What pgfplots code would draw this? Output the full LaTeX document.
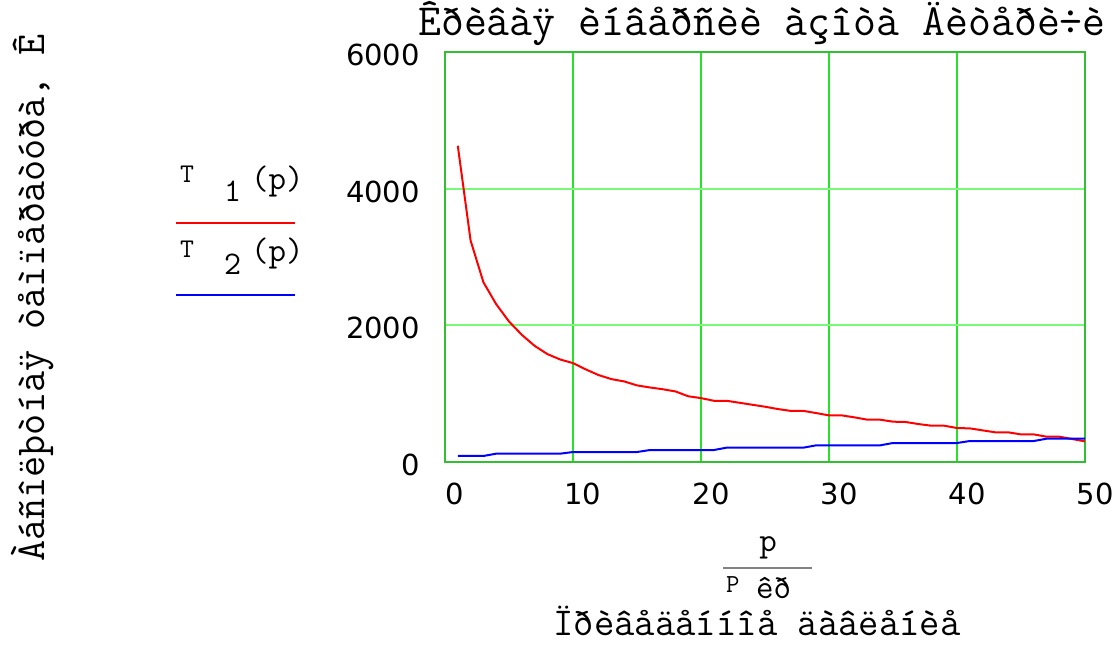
\documentclass[border=0pt]{standalone}
\usepackage{pgfplots}
\pgfplotsset{compat=1.18}
\usepackage{fontspec}
\newfontfamily\tickfont{DejaVu Sans}
\definecolor{framegreen}{RGB}{51,190,51}
\definecolor{vgrid}{RGB}{40,225,40}
\definecolor{hgrid}{RGB}{120,250,120}
\definecolor{fracgray}{RGB}{130,130,130}
\newcommand\mf[1]{\ttfamily\fontsize{#1}{#1}\selectfont}

\pgfplotstableread{
p T1 T2
1 4628 88
2 3240 88
3 2631 88
4 2309 122
5 2056 122
6 1861 122
7 1700 122
8 1579 122
9 1500 122
10 1447 146
11 1355 146
12 1272 146
13 1213 146
14 1179 146
15 1121 146
16 1091 175
17 1065 175
18 1033 175
19 962 175
20 935 175
21 896 175
22 896 210
23 867 210
24 838 210
25 809 210
26 775 210
27 748 210
28 748 210
29 716 244
30 682 244
31 682 244
32 653 244
33 619 244
34 619 244
35 590 278
36 585 278
37 555 278
38 531 278
39 531 278
40 497 278
41 492 307
42 463 307
43 434 307
44 434 307
45 404 307
46 404 307
47 370 341
48 370 341
49 336 341
50 302 341
}\datatable

\begin{document}
\begin{tikzpicture}[x=1pt,y=1pt]
\begin{axis}[
  at={(445pt,186pt)}, anchor=south west,
  scale only axis, width=640pt, height=410pt,
  xmin=0, xmax=50, ymin=0, ymax=6000,
  xtick={0,10,20,30,40,50},
  ytick={0,2000,4000,6000},
  major tick length=0pt,
  grid=major,
  x grid style={color=vgrid, line width=1.3pt},
  y grid style={color=hgrid, line width=2pt},
  axis line style={color=framegreen, line width=2.5pt},
  /pgf/number format/assume math mode=true,
  /pgf/number format/1000 sep={},
  ticklabel style={font=\tickfont\fontsize{29}{29}\selectfont},
  xticklabel style={anchor=base, inner sep=0pt, xshift=10pt, yshift=-43pt},
  yticklabel style={anchor=east, inner sep=0pt, xshift=-25pt, yshift=-3pt},
  clip=false,
]
\addplot[red, line width=2pt] table[x=p, y=T1] {\datatable};
\addplot[blue, line width=2pt] table[x=p, y=T2] {\datatable};
\end{axis}

% title
\node[anchor=base, font=\mf{44.5}, inner sep=0pt] at (762,612) {Êðèâàÿ èíâåðñèè àçîòà Äèòåðè÷è};
% y label
\node[rotate=90, anchor=base west, font=\mf{41}, inner sep=0pt] at (44,86) {Àáñîëþòíàÿ òåìïåðàòóðà, Ê};
% x label
\node[anchor=base, font=\mf{39.5}, inner sep=0pt] at (757,13) {Ïðèâåäåííîå äàâëåíèå};
\node[anchor=base, font=\mf{34}, inner sep=0pt] at (768,96) {p};
\draw[fracgray, line width=1.5pt] (723,80) -- (812,80);
\node[anchor=base west, font=\mf{26}, inner sep=0pt] at (726,56) {P};
\node[anchor=base west, font=\mf{34}, inner sep=0pt] at (756,50) {êð};

% legend
\node[anchor=base west, font=\mf{27}, inner sep=0pt] at (180,465) {T};
\node[anchor=base west, font=\mf{33}, inner sep=0pt] at (224,446) {1};
\node[anchor=base west, font=\mf{34}, inner sep=0pt] at (251,458) {(p)};
\draw[red, line width=2pt] (176,425) -- (295,425);
\node[anchor=base west, font=\mf{27}, inner sep=0pt] at (180,390) {T};
\node[anchor=base west, font=\mf{33}, inner sep=0pt] at (224,373) {2};
\node[anchor=base west, font=\mf{34}, inner sep=0pt] at (251,386) {(p)};
\draw[blue, line width=2pt] (176,353) -- (295,353);

\pgfresetboundingbox
\useasboundingbox (0,0) rectangle (1116,648);
\end{tikzpicture}
\end{document}
